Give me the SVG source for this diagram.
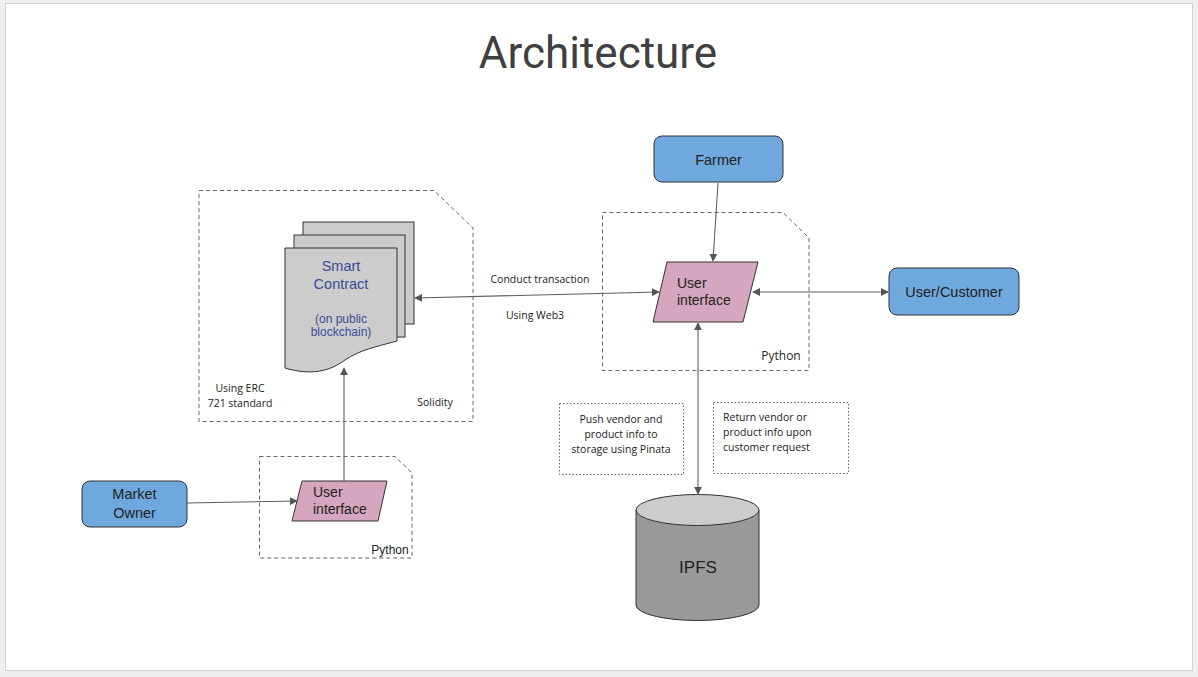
<svg xmlns="http://www.w3.org/2000/svg" width="1198" height="677" viewBox="0 0 1198 677">
  <style>
    .lbl { font-family: "Liberation Sans", Arial, sans-serif; fill: #222; }
    .note { font-family: "Open Sans", "Liberation Sans", sans-serif; font-size: 10.5px; fill: #222; }
    .zone { fill: none; stroke: #666; stroke-width: 1; stroke-dasharray: 4 3; }
    .dots { fill: none; stroke: #666; stroke-width: 1; stroke-dasharray: 1.5 2; }
    .actor { fill: #6fa8dc; stroke: #333; stroke-width: 1; }
    .ui { fill: #d5a6bd; stroke: #333; stroke-width: 1; }
    .doc { fill: #cccccc; stroke: #333; stroke-width: 1; }
    .ink { fill: #3d4a94; }
    .edge { fill: none; stroke: #5f5f5f; stroke-width: 1.1; }
  </style>
  <defs>
    <marker id="arrow" viewBox="0 0 10 10" refX="9" refY="5" markerWidth="8" markerHeight="8" markerUnits="userSpaceOnUse" orient="auto-start-reverse">
      <path d="M0,0 L10,5 L0,10 z" fill="#555"/>
    </marker>
  </defs>

  <!-- slide frame -->
  <rect x="0" y="0" width="1198" height="677" fill="#efefef"/>
  <rect x="5.5" y="3.5" width="1187" height="667" fill="#ffffff" stroke="#d2d2d2"/>

  <text x="598" y="68" text-anchor="middle" font-family="Roboto, 'Liberation Sans', sans-serif" font-size="44" fill="#404040">Architecture</text>

  <!-- blockchain zone -->
  <g id="zone-contract">
    <path class="zone" d="M199,190.5 H434 L473,228 V421.5 H199 Z"/>
    <text class="note" x="240" y="392" text-anchor="middle">Using ERC</text>
    <text class="note" x="240" y="407" text-anchor="middle">721 standard</text>
    <text class="note" x="435" y="406" text-anchor="middle">Solidity</text>
  </g>

  <g id="smart-contract">
    <rect class="doc" x="303" y="222" width="111" height="102"/>
    <rect class="doc" x="294" y="235" width="111" height="102"/>
    <path class="doc" d="M285,248 H397 V341 C375,347 360,350 345,360 C330,371 312,376 285,368 Z"/>
    <text class="lbl ink" x="341" y="271" text-anchor="middle" font-size="14.5">Smart</text>
    <text class="lbl ink" x="341" y="289" text-anchor="middle" font-size="14.5">Contract</text>
    <text class="lbl ink" x="341" y="323" text-anchor="middle" font-size="12">(on public</text>
    <text class="lbl ink" x="341" y="336" text-anchor="middle" font-size="12">blockchain)</text>
  </g>

  <!-- application zone (right) -->
  <g id="zone-app">
    <path class="zone" d="M602.5,212.5 H783 L809,238 V370.5 H602.5 Z"/>
    <text class="note" x="781" y="360" text-anchor="middle" font-size="12" style="font-size:12px">Python</text>
  </g>

  <g id="farmer">
    <rect class="actor" x="654" y="136" width="129" height="46" rx="8"/>
    <text class="lbl" x="718.5" y="165" text-anchor="middle" font-size="14.5">Farmer</text>
  </g>

  <g id="ui-main">
    <polygon class="ui" points="667,262 758,262 743,322 653,322"/>
    <text class="lbl" x="677" y="288" font-size="14">User</text>
    <text class="lbl" x="677" y="305" font-size="14">interface</text>
  </g>

  <g id="customer">
    <rect class="actor" x="889" y="268" width="130" height="47" rx="8"/>
    <text class="lbl" x="954" y="297" text-anchor="middle" font-size="14.5">User/Customer</text>
  </g>

  <!-- owner zone (bottom left) -->
  <g id="zone-owner">
    <path class="zone" d="M259.5,456.5 H395 L412,473 V558 H259.5 Z"/>
    <text class="lbl" x="390" y="554" text-anchor="middle" font-size="12">Python</text>
  </g>

  <g id="market-owner">
    <rect class="actor" x="82" y="481" width="105" height="46" rx="8"/>
    <text class="lbl" x="134.5" y="499" text-anchor="middle" font-size="14.5">Market</text>
    <text class="lbl" x="134.5" y="518" text-anchor="middle" font-size="14.5">Owner</text>
  </g>

  <g id="ui-owner">
    <polygon class="ui" points="302,481 387,481 378,521 292,521"/>
    <text class="lbl" x="313" y="497" font-size="14">User</text>
    <text class="lbl" x="313" y="514" font-size="14">interface</text>
  </g>

  <!-- storage -->
  <g id="ipfs">
    <path d="M636,510 V605 A61.5,15.5 0 0 0 759,605 V510" fill="#999999" stroke="#333"/>
    <ellipse cx="697.5" cy="510" rx="61.5" ry="15.5" fill="#cccccc" stroke="#333"/>
    <text class="lbl" x="698" y="573" text-anchor="middle" font-size="17">IPFS</text>
  </g>

  <g id="note-push">
    <rect class="dots" x="559.5" y="403.5" width="124" height="71"/>
    <text class="note" x="621" y="423" text-anchor="middle">Push vendor and</text>
    <text class="note" x="621" y="438" text-anchor="middle">product info to</text>
    <text class="note" x="621" y="453" text-anchor="middle">storage using Pinata</text>
  </g>

  <g id="note-return">
    <rect class="dots" x="713.5" y="402.5" width="135" height="71"/>
    <text class="note" x="723" y="421">Return vendor or</text>
    <text class="note" x="723" y="436">product info upon</text>
    <text class="note" x="723" y="451">customer request</text>
  </g>

  <!-- connectors -->
  <g id="connectors">
    <line class="edge" x1="718" y1="183" x2="713" y2="261" marker-end="url(#arrow)"/>
    <line class="edge" x1="753" y1="292" x2="888" y2="292" marker-start="url(#arrow)" marker-end="url(#arrow)"/>
    <line class="edge" x1="415" y1="298" x2="659" y2="292" marker-start="url(#arrow)" marker-end="url(#arrow)"/>
    <line class="edge" x1="698" y1="323" x2="698" y2="494" marker-start="url(#arrow)" marker-end="url(#arrow)"/>
    <line class="edge" x1="187" y1="503" x2="297" y2="501" marker-end="url(#arrow)"/>
    <line class="edge" x1="344" y1="481" x2="344" y2="368" marker-end="url(#arrow)"/>
    <text class="note" x="540" y="283" text-anchor="middle">Conduct transaction</text>
    <text class="note" x="535" y="319" text-anchor="middle">Using Web3</text>
  </g>
</svg>
